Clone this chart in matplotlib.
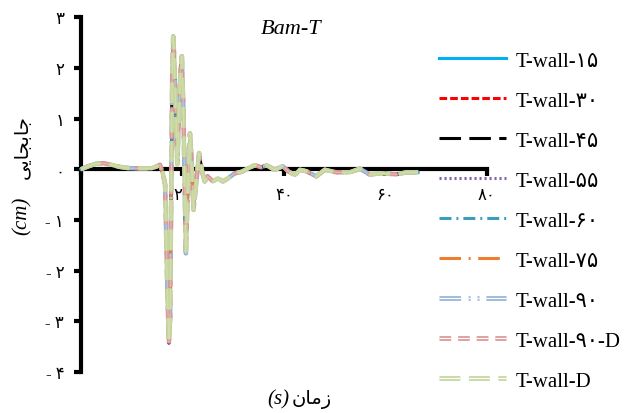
import matplotlib
matplotlib.use('Agg')
import matplotlib.pyplot as plt
import matplotlib.patheffects as pe
from matplotlib.lines import Line2D

plt.rcParams['font.family'] = ['Liberation Serif', 'DejaVu Sans']
plt.rcParams['lines.scale_dashes'] = False

# time (s)
t_s = [0, 1.5, 3, 4.4, 6, 7.5, 8.7, 10, 12, 13.9, 14.8, 15.6, 16.2, 16.6,
       17.1, 17.35, 17.6, 18.0, 18.2, 18.4, 19.0, 19.6, 19.9, 20.2, 20.7,
       21.1, 21.5, 21.8, 22.2, 22.7, 23.3, 23.8, 24.4, 25.0, 26.0, 27.0,
       28.0, 29.0, 30.3, 31.7, 33.0, 34.3, 35.5, 36.6, 38.2, 39.8, 41.0,
       42.2, 43.2, 44.5, 46.4, 48.1, 50.4, 53.0, 55.0, 56.9, 59.6, 62.2,
       64.2, 66.5]

# displacement (cm), the nine walls overlap almost exactly
disp_cm = [0, 0.06, 0.11, 0.12, 0.09, 0.05, 0.03, 0.02, 0.02, 0.02, 0.05,
           0.09, -0.1, -0.3, -2.6, -3.43, -2.9, 1.8, 2.62, 2.2, 0.1, 1.9,
           2.23, 1.2, -1.66, -0.3, 0.71, 0.2, -0.8, -0.3, 0.32, 0.0, -0.24,
           -0.14, -0.24, -0.18, -0.24, -0.18, -0.08, -0.05, 0.02, 0.08, 0.04,
           0.08, -0.01, 0.06, -0.05, -0.11, -0.01, -0.04, -0.14, -0.01, -0.06,
           -0.06, 0.01, -0.1, -0.08, -0.1, -0.06, -0.06]

names = ['T-wall-۱۵', 'T-wall-۳۰', 'T-wall-۴۵', 'T-wall-۵۵', 'T-wall-۶۰',
         'T-wall-۷۵', 'T-wall-۹۰', 'T-wall-۹۰-D', 'T-wall-D']
colors = ['#00B0F0', '#FF0000', '#000000', '#7F64A8', '#3A9DBB',
          '#ED7D31', '#95B3D7', '#D99694', '#C3D69B']
dash_list = [None, (5.5, 2.2), (15.5, 6), (1.5, 2.1), (8.6, 3.6, 1.4, 3.6),
             (15.5, 5.5, 1.4, 5.5), (15.5, 5.5, 1.4, 5, 1.4, 5), (8.4, 5),
             (15, 6.2)]
double = [False, False, False, False, False, False, True, True, True]

fa = str.maketrans('0123456789', '۰۱۲۳۴۵۶۷۸۹')

fig = plt.figure(figsize=(6.37, 4.14), dpi=100)
ax = fig.add_axes([0.127, 0.099, 0.637, 0.857])

handles = []
for i in range(len(names)):
    ln, = ax.plot(t_s, disp_cm, color=colors[i], lw=2.2, zorder=3, clip_on=False)
    # legend sample with the same style
    h = Line2D([], [], color=colors[i], lw=2.2)
    if dash_list[i] is not None:
        ln.set_dashes(dash_list[i])
        h.set_dashes(dash_list[i])
    if double[i]:
        # on the curve the pale centre is mostly covered by the other walls
        ln.set_path_effects([pe.Stroke(linewidth=3.2, foreground=colors[i]),
                             pe.Stroke(linewidth=0.9, foreground='#E8E0C8', alpha=0.5)])
        h.set_path_effects([pe.Stroke(linewidth=3.4, foreground=colors[i]),
                            pe.Stroke(linewidth=0.9, foreground='white')])
    handles.append(h)

ax.set_xlim(0, 80)
ax.set_ylim(-4, 3)
ax.spines['top'].set_visible(False)
ax.spines['right'].set_visible(False)
ax.spines['bottom'].set_position(('data', 0))
ax.spines['left'].set_linewidth(3)
ax.spines['bottom'].set_linewidth(3)

xt = [0, 20, 40, 60, 80]
yt = [-4, -3, -2, -1, 0, 1, 2, 3]
ax.set_xticks(xt)
ax.set_xticklabels([str(v).translate(fa) for v in xt])
ax.set_yticks(yt)
ax.set_yticklabels([('- ' + str(-v) if v < 0 else str(v)).translate(fa) for v in yt])
ax.tick_params(direction='out', length=5, width=3, labelsize=12)
ax.tick_params(axis='x', pad=8)
ax.tick_params(axis='y', pad=7)

fig.text(291 / 637, 1 - 30 / 414, 'Bam-T', style='italic', fontsize=16,
         ha='center', va='center')

# x label: (s) زمان
fig.text(289 / 637, 1 - 400 / 414, '(s)', style='italic', fontsize=15,
         ha='right', va='center')
fig.text(292 / 637, 1 - 400 / 414, '\uFEE5\uFE8E\uFEE3\uFEAF', fontsize=14,
         ha='left', va='center', family='DejaVu Sans')

# y label: (cm) جابجایی
fig.text(22 / 637, 1 - 216 / 414, '(cm)', style='italic', fontsize=15,
         rotation=90, ha='center', va='center')
fig.text(22 / 637, 1 - 147 / 414, '\uFBFD\uFBFE\uFE8E\uFEA0\uFE91\uFE8E\uFE9F',
         fontsize=14, rotation=90, ha='center', va='center', family='DejaVu Sans')

fig.legend(handles, names, loc='upper left',
           bbox_to_anchor=(439 / 637, 1 - 52 / 414), frameon=False,
           fontsize=15, handlelength=3.2, handletextpad=0.5,
           labelspacing=0.98, borderaxespad=0, borderpad=0)

fig.savefig('out.png', dpi=100)
